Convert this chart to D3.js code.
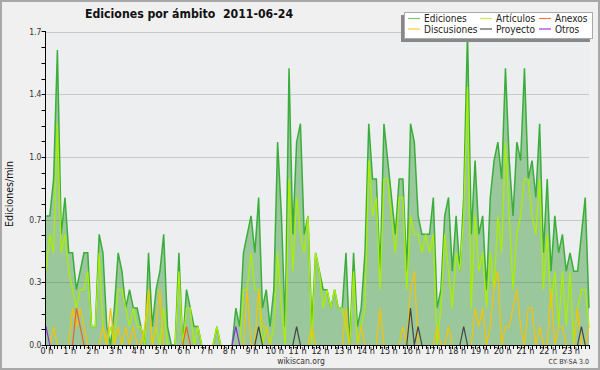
<!DOCTYPE html>
<html>
<head>
<meta charset="utf-8">
<script src="https://cdn.jsdelivr.net/npm/d3@7"></script>
<style>
  body { margin: 0; background: #f0f0f0; }
  svg { display: block; font-family: "DejaVu Sans Condensed", "DejaVu Sans", sans-serif; }
</style>
</head>
<body>
<svg id="canvas" width="600" height="370"></svg>
<script>
// one value every 10 minutes, 00:00 .. 23:50 (edits per minute)
let ediciones = [
  0.7,0.7,0.9,1.6,0.6,0.8,0.5,0.5,0.3,0.4,
  0.5,0.5,0.1,0.1,0.6,0.5,0.1,0,0.2,0.5,
  0.4,0.2,0.3,0.2,0.2,0.1,0,0.5,0.1,0.3,
  0.4,0.6,0.1,0,0,0.5,0,0.3,0.2,0.1,
  0.1,0,0,0,0,0.1,0,0,0,0,
  0.2,0.1,0.5,0.6,0.7,0.5,0.8,0.2,0.3,0.1,
  0.3,1.1,0.7,0.1,1.5,0.6,1.1,1.2,0.6,0.7,
  0.1,0.5,0.4,0.3,0.3,0.2,0.3,0.2,0.2,0.5,
  0,0.5,0.1,0.2,0.5,1.2,0.9,0.9,0.4,1.2,
  1.0,0.8,0.6,0.9,0.9,0.4,1.2,1.1,0.7,0.6,
  0.6,0.6,0.8,0.2,0.3,0.7,0.8,0.4,0.7,0.4,
  0.8,1.7,0.6,1.0,0.6,0.7,0.3,0.8,1.0,1.1,
  0.9,1.5,1.0,0.7,1.1,1.0,1.5,0.9,1.0,0.8,
  1.2,0.5,0.9,0.4,0.7,0.5,0.6,0.4,0.5,0.4,
  0.4,0.6,0.8,0.2
]
let articulos = [
  0.4,0.6,0.5,1.2,0.5,0.6,0.4,0.3,0.2,0.3,
  0.3,0.4,0.1,0.1,0.5,0.1,0,0.1,0,0.3,
  0.3,0.2,0.1,0.2,0.1,0.1,0,0.3,0,0.1,
  0,0.2,0,0,0,0.4,0,0.2,0.2,0,
  0.1,0,0,0,0,0.1,0,0,0,0,
  0,0,0.3,0.3,0.5,0.3,0.3,0,0.1,0,
  0.1,0.5,0.2,0,0.9,0.4,0.8,0.6,0.5,0.7,
  0,0.5,0.4,0.2,0.3,0.2,0.3,0.2,0.2,0.1,
  0,0.4,0,0.1,0.2,1.0,0.7,0.8,0.3,0.9,
  0.9,0.7,0.5,0.8,0.8,0.3,0.7,0.6,0.6,0.5,
  0.6,0.5,0.6,0,0.2,0.6,0.4,0.2,0.5,0.4,
  0.7,1.4,0.2,0.7,0.4,0.5,0.2,0.5,0.3,0.7,
  0.5,1.1,0.7,0.3,0.6,0.7,0.9,0.9,0.7,0.6,
  0.9,0.3,0.6,0.2,0.4,0.1,0.4,0.1,0.4,0,
  0.2,0.3,0.3,0.1
]
let discusiones = [
  0,0,0.1,0,0,0,0,0.2,0.1,0.2,
  0.1,0,0,0,0,0.1,0,0.2,0,0.1,
  0,0.1,0,0.1,0,0,0.1,0.3,0,0.1,
  0.3,0,0,0,0,0,0,0,0,0,
  0,0,0,0,0,0,0,0,0,0,
  0,0,0,0.3,0,0,0.3,0.1,0.1,0,
  0,0,0,0,0,0,0,0,0,0,
  0.1,0,0,0,0,0,0,0,0,0.2,
  0,0,0,0.1,0,0,0,0,0.2,0,
  0,0,0,0,0.1,0,0.3,0.4,0,0,
  0,0,0,0.1,0,0,0.1,0,0,0,
  0,0,0,0.2,0.1,0.2,0,0.1,0.3,0.4,
  0,0.1,0.1,0.2,0.3,0.1,0,0.2,0.2,0,
  0.1,0,0,0.3,0,0.1,0.1,0,0,0,
  0.2,0,0,0.1
]
// sparse series: [index, value]
let anexosPts = [[8, 0.2], [9, 0.1], [37, 0.1]]
let proyectoPts = [[56, 0.1], [66, 0.1], [96, 0.2], [98, 0.1], [110, 0.1], [141, 0.1]]
let otrosPts = [[0, 0.1], [50, 0.1]]

let hourLabels = d3.range(24).map(h => h + ' h')
let yTickValues = [0, 0.34, 0.68, 1.02, 1.36, 1.7]
let yMinorValues = d3.range(0, 1.7001, 0.085)

let legendNames = ['Ediciones', 'Discusiones', 'Artículos', 'Proyecto', 'Anexos', 'Otros']
let legendColors = ['#7fc47f', '#ffcc33', '#c4ee44', '#555555', '#ff7744', '#9933ff']

let fromSparse = (pts) => {
  let arr = ediciones.map(() => 0)
  pts.forEach(p => { arr[p[0]] = p[1] })
  return arr
}
let anexos = fromSparse(anexosPts)
let proyecto = fromSparse(proyectoPts)
let otros = fromSparse(otrosPts)

let canvas = d3.select('#canvas')

let x = d3.scaleLinear().domain([0, 143 / 6]).range([46, 589])
let y = d3.scaleLinear().domain([0, 1.7]).range([345, 31.5])

// frame
canvas.append('rect')
  .attr('x', 1).attr('y', 1).attr('width', 598).attr('height', 368)
  .attr('fill', '#f0f0f0').attr('stroke', '#a8a8a8').attr('stroke-width', 2)

canvas.append('rect')
  .attr('x', x(0)).attr('y', y(1.7))
  .attr('width', x(143 / 6) - x(0)).attr('height', y(0) - y(1.7))
  .attr('fill', '#edeef0')

// grid
canvas.append('g').selectAll('line')
  .data(yTickValues.slice(1))
  .enter()
  .append('line')
  .attr('x1', x(0)).attr('x2', x(143 / 6))
  .attr('y1', d => Math.round(y(d)) + 0.5).attr('y2', d => Math.round(y(d)) + 0.5)
  .attr('stroke', '#c8c8c8')

let hourOf = (d, i) => i / 6

// area under the total
canvas.append('path')
  .datum(ediciones)
  .attr('d', d3.area().x((d, i) => x(hourOf(d, i))).y0(y(0)).y1(d => y(d)))
  .attr('fill', '#008000')
  .attr('fill-opacity', 0.35)

// zero runs are hidden by the axis in the original, so skip them
let line = d3.line()
  .defined((d, i, arr) => d > 0 || arr[i - 1] > 0 || arr[i + 1] > 0)
  .x((d, i) => x(hourOf(d, i)))
  .y(d => y(d))

let series = [
  { data: ediciones, color: '#3aae3a', w: 1.5 },
  { data: articulos, color: '#aaee00', w: 1.3 },
  { data: discusiones, color: '#f5c400', w: 1.2 },
  { data: anexos, color: '#f06020', w: 1.2 },
  { data: proyecto, color: '#444444', w: 1.2 },
  { data: otros, color: '#8a2be2', w: 1.2 }
]
canvas.append('g').selectAll('path')
  .data(series)
  .enter()
  .append('path')
  .attr('d', s => line(s.data))
  .attr('fill', 'none')
  .attr('stroke', s => s.color)
  .attr('stroke-width', s => s.w)
  .attr('stroke-linejoin', 'miter')

// y axis
let yAxis = canvas.append('g').attr('transform', 'translate(45.5,0)')
yAxis.append('line').attr('y1', 31).attr('y2', 346).attr('stroke', '#000')
yAxis.selectAll('.minor')
  .data(yMinorValues)
  .enter()
  .append('line')
  .attr('x1', -4).attr('x2', 0)
  .attr('y1', d => Math.round(y(d)) + 0.5).attr('y2', d => Math.round(y(d)) + 0.5)
  .attr('stroke', '#000')
yAxis.selectAll('text')
  .data(yTickValues)
  .enter()
  .append('text')
  .attr('x', -4)
  .attr('y', d => y(d) + 3)
  .attr('text-anchor', 'end')
  .attr('font-size', 8.5)
  .attr('fill', '#333')
  .text(d => d3.format('.1f')(d))

// x axis
let xAxis = canvas.append('g').attr('transform', 'translate(0,345.5)')
xAxis.append('line').attr('x1', 45).attr('x2', 590).attr('stroke', '#000')
xAxis.selectAll('.tick')
  .data(ediciones)
  .enter()
  .append('line')
  .attr('x1', (d, i) => Math.round(x(hourOf(d, i))) + 0.5)
  .attr('x2', (d, i) => Math.round(x(hourOf(d, i))) + 0.5)
  .attr('y1', 0).attr('y2', 3.5)
  .attr('stroke', '#000')
xAxis.selectAll('text')
  .data(hourLabels)
  .enter()
  .append('text')
  .attr('x', (d, i) => x(i) + 1)
  .attr('y', 8)
  .attr('text-anchor', 'middle')
  .attr('font-size', 9)
  .attr('fill', '#222')
  .text(d => d)

// titles
canvas.append('text')
  .attr('x', 85).attr('y', 18)
  .attr('font-size', 12.2)
  .attr('font-weight', 'bold')
  .attr('fill', '#111')
  .attr('xml:space', 'preserve')
  .text('Ediciones por ámbito  2011-06-24')

canvas.append('text')
  .attr('transform', 'translate(13,194) rotate(-90)')
  .attr('text-anchor', 'middle')
  .attr('font-size', 10.5)
  .attr('fill', '#111')
  .text('Ediciones/min')

canvas.append('text')
  .attr('x', 301).attr('y', 364)
  .attr('text-anchor', 'middle')
  .attr('font-size', 8.5)
  .attr('fill', '#333')
  .text('wikiscan.org')

canvas.append('text')
  .attr('x', 589).attr('y', 364)
  .attr('text-anchor', 'end')
  .attr('font-size', 7)
  .attr('fill', '#333')
  .text('CC BY-SA 3.0')

// legend
let legend = canvas.append('g')
legend.append('rect')
  .attr('x', 401).attr('y', 15).attr('width', 189).attr('height', 27)
  .attr('fill', '#888')
legend.append('rect')
  .attr('x', 404.5).attr('y', 12.5).attr('width', 188).attr('height', 26)
  .attr('fill', '#fff').attr('stroke', '#aaa')
let colX = [408, 480, 539]
let items = legend.selectAll('g.item')
  .data(legendNames)
  .enter()
  .append('g')
  .attr('transform', (d, i) => 'translate(' + colX[Math.floor(i / 2)] + ',' + (i % 2 === 0 ? 18.5 : 29) + ')')
items.append('line')
  .attr('x1', 0).attr('x2', 12)
  .attr('stroke', (d, i) => legendColors[i])
  .attr('stroke-width', 1.2)
items.append('text')
  .attr('x', 16).attr('y', 3.5)
  .attr('font-size', 10)
  .attr('fill', '#222')
  .text(d => d)
</script>
</body>
</html>
